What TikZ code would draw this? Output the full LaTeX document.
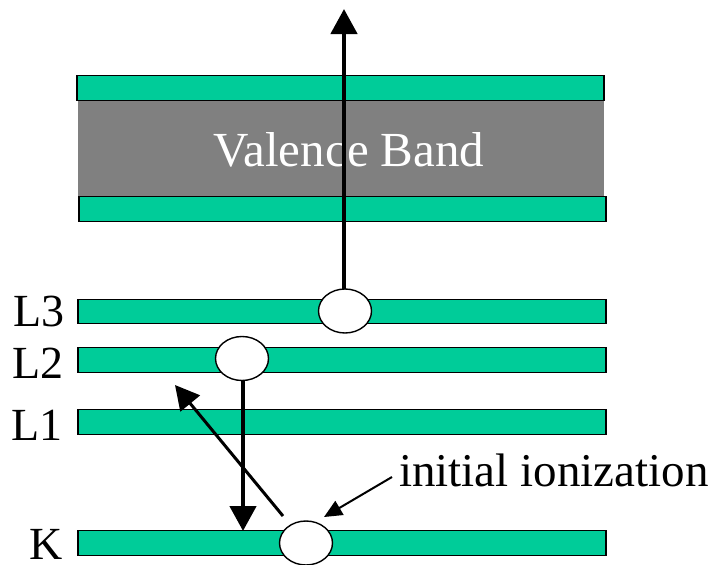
\documentclass[tikz,border=0pt]{standalone}
\usepackage{fontspec}
\setmainfont{Liberation Serif}
\usetikzlibrary{arrows.meta,shapes.geometric}
\definecolor{bandgreen}{HTML}{00CC99}
\definecolor{bandgray}{HTML}{808080}
\begin{document}
\begin{tikzpicture}[x=1pt,y=-1pt,
  band/.style={draw=black, line width=1.4pt, fill=bandgreen, inner sep=0pt,
    minimum width=528pt, minimum height=24.5pt},
  hole/.style={ellipse, draw=black, line width=1.4pt, fill=white, inner sep=0pt,
    minimum width=53pt, minimum height=44pt},
  level/.style={anchor=east, inner sep=0pt, font=\fontsize{46}{50}\selectfont},
  bigarrow/.style={line width=4.5pt, -{Triangle[length=25pt,width=26pt]}},
  midarrow/.style={line width=3pt, -{Triangle[length=24pt,width=25pt]}},
  smallarrow/.style={line width=2pt, -{Triangle[length=18pt,width=16pt]}}
]
\useasboundingbox (0,0) rectangle (715,565);

% valence band: two green edges around a gray body
\node[band, minimum width=527pt] (vbot) at (342.5,209) {};
\node[fill=bandgray, inner sep=0pt, minimum width=526pt, minimum height=96pt] (vbody) at (341,148) {};
\node[band, minimum width=527pt] (vtop) at (340.5,88) {};
\node[text=white, inner sep=0pt, font=\fontsize{49}{53}\selectfont] (vlabel) at (349,150) {Valence Band};

% core levels
\node[band] (l3) at (342,311.5) {};
\node[band] (l2) at (342,360) {};
\node[band] (l1) at (342,422) {};
\node[band] (k)  at (342,543) {};

\node[level] (l3t) at (65,311.5) {L3};
\node[level] (l2t) at (64,363) {L2};
\node[level] (l1t) at (63,425) {L1};
\node[level] (kt)  at (63,544) {K};

% transition arrows
\coordinate (escape) at (344,9);
\coordinate (augtail) at (283,516);
\coordinate (augtip) at (175,385);
\coordinate (initail) at (392,477);
\coordinate (initip) at (324,517);

\node[hole] (l3hole) at (345,311) {};
\node[hole] (l2hole) at (242,358.5) {};

\draw[bigarrow] (344,289) -- (escape);
\draw[bigarrow] (243,381) -- (243,531);
\draw[midarrow] (augtail) -- (augtip);
\draw[smallarrow] (initail) -- (initip);

\node[hole] (khole) at (306,543) {};

\node[anchor=base west, inner sep=0pt, font=\fontsize{47}{51}\selectfont] (inilabel) at (399,486) {initial ionization};
\end{tikzpicture}
\end{document}
